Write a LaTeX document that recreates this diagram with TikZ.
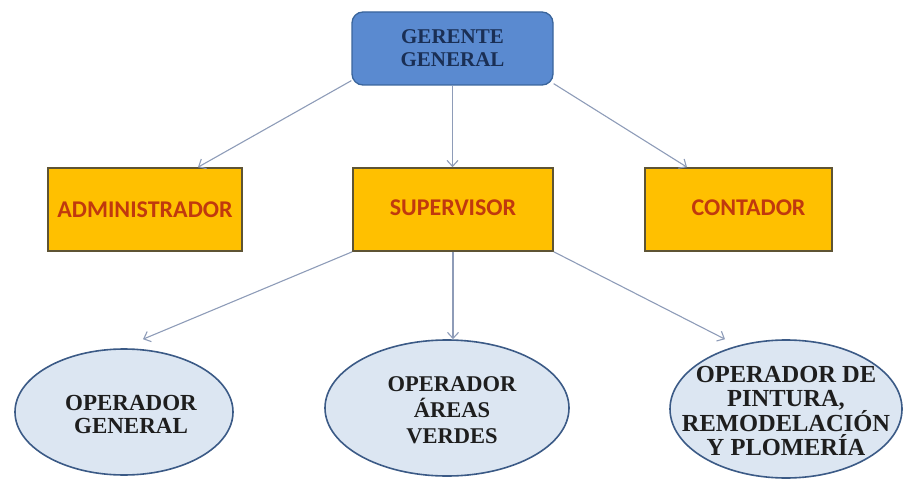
\documentclass[tikz,border=0pt]{standalone}
\usepackage{fontspec}
\setmainfont{Liberation Serif}
\newfontfamily\calfont{Carlito}
\usetikzlibrary{arrows.meta,shapes.geometric,calc}
\definecolor{gerfill}{HTML}{5A8AD0}
\definecolor{gerdraw}{HTML}{3A659C}
\definecolor{gertext}{HTML}{1A2F55}
\definecolor{boxfill}{HTML}{FFC000}
\definecolor{boxdraw}{HTML}{5E5434}
\definecolor{boxtext}{HTML}{C0390E}
\definecolor{ellfill}{HTML}{DCE6F2}
\definecolor{elldraw}{HTML}{3B5A86}
\definecolor{elltext}{HTML}{1E1E1E}
\definecolor{arrcol}{HTML}{8E9CB8}
\tikzset{
  gerbox/.style={draw=gerdraw, fill=gerfill, line width=1.3pt, rounded corners=11pt,
    text=gertext, align=center, font={\fontsize{21}{23}\selectfont\bfseries}, inner sep=0pt},
  orgbox/.style={draw=boxdraw, fill=boxfill, line width=1.6pt, text=boxtext,
    font={\calfont\fontsize{24}{26}\selectfont\bfseries}, inner sep=0pt},
  opell/.style={ellipse, draw=elldraw, fill=ellfill, line width=1.6pt, text=elltext,
    align=center, inner sep=0pt},
  elltxt/.style={align=center, text=elltext, inner sep=0pt},
  conn/.style={draw=arrcol, line width=1.1pt, -{Straight Barb[length=6pt,width=11pt]}}
}
\begin{document}
\begin{tikzpicture}[x=1pt,y=-1pt]
\useasboundingbox (0,0) rectangle (904,481);
\node[gerbox, minimum width=201pt, minimum height=73pt] (g) at (452.5,48.5) {GERENTE\\GENERAL};
\node[orgbox, minimum width=194pt, minimum height=83pt] (a) at (145,209.5) {ADMINISTRADOR};
\node[orgbox, minimum width=200pt, minimum height=83pt] (s) at (453,209.5) {\raisebox{4pt}{SUPERVISOR}};
\node[orgbox, minimum width=187pt, minimum height=83pt] (c) at (738.5,209.5) {\hspace*{20pt}\raisebox{4pt}{CONTADOR}};
\node[opell, minimum width=218pt, minimum height=126pt,
  label={[elltxt, font={\fontsize{23}{23}\selectfont\bfseries}, xshift=7pt, yshift=-2pt]center:{OPERADOR\\GENERAL}}] (e1) at (124,412) {};
\node[opell, minimum width=244pt, minimum height=136pt,
  label={[elltxt, font={\fontsize{22.5}{26}\selectfont\bfseries}, xshift=5pt, yshift=-2pt]center:{OPERADOR\\ÁREAS\\VERDES}}] (e2) at (447,408) {};
\node[opell, minimum width=232pt, minimum height=138pt,
  label={[elltxt, font={\fontsize{24.5}{23.5}\selectfont\bfseries}, yshift=-2pt]center:{OPERADOR DE\\PINTURA,\\REMODELACIÓN\\Y PLOMERÍA}}] (e3) at (786,409) {};
\draw[conn] ([yshift=5pt]g.south west) -- ([xshift=53pt]a.north);
\draw[conn] ([yshift=2pt]g.south east) -- ([xshift=-51.5pt]c.north);
\draw[conn] (g.south) -- (g.south |- s.north);
\draw[conn] (s.south west) -- ([xshift=19pt,yshift=9pt]e1.north);
\draw[conn] (s.south) -- (s.south |- e2.north);
\draw[conn] (s.south east) -- ([xshift=-61pt]e3.north);
\end{tikzpicture}
\end{document}
